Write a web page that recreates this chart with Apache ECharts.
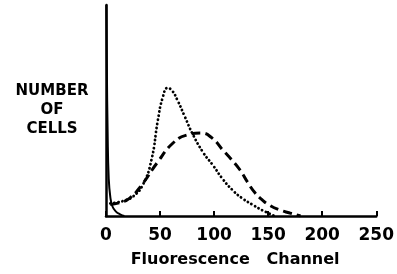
<!DOCTYPE html>
<html lang="en">
<head>
    <meta charset="UTF-8">
    <script src="https://cdn.jsdelivr.net/npm/echarts@6/dist/echarts.min.js"></script>
    <title>Fluorescence</title>
    <style>body{margin:0;background:#fff}</style>
</head>
<body>
    <div id="main" style="width:397px;height:274px"></div>
    <script>
        // [channel, number of cells]
        var control = [[0.3,100],[0.8,70],[1.5,40],[2.5,18],[4,9],[6,4.5],[9,2.2],[13,0.8],[17,0]];
        var dotted = [[4,6],[10,6.4],[18,7.5],[25,9.2],[34,14.7],[42,26.5],[48,45.5],[52.6,56.4],[57,60.7],
            [61,59.5],[66,55],[73,47],[80,39],[90,30],[99,24],[108,17.5],[117,12.3],[126,8.4],[136,5.2],[145,2.6],[151,1.2],[156,0]];
        var dashed = [[4,5.5],[12,6.2],[22,8.5],[33,14.7],[47,25],[62,34.6],[75,38.4],[88,39.3],[98,37],
            [108,31.3],[116,26.8],[124,21.8],[131,16],[138,10.9],[145,7.4],[151,5.2],[160,3],[170,1.4],[180,0]];
        var xTicks = [0, 50, 100, 150, 200, 250];

        var echart = echarts.init(document.getElementById('main'));
        var font = 'DejaVu Sans';
        echart.setOption({
            animation: false,
            grid: {left: 106, right: 20, top: 5, bottom: 58},
            xAxis: {
                type: 'value', min: xTicks[0], max: xTicks[xTicks.length - 1], interval: 50,
                name: 'Fluorescence   Channel', nameLocation: 'middle', nameGap: 36,
                nameTextStyle: {color: '#000', fontFamily: font, fontWeight: 'bold', fontSize: 16, padding: [0, 12, 0, 0]},
                axisLine: {lineStyle: {color: '#000', width: 2.5}},
                axisTick: {inside: true, length: 5, lineStyle: {color: '#000', width: 2}},
                axisLabel: {color: '#000', fontFamily: font, fontWeight: 'bold', fontSize: 17, margin: 11},
                splitLine: {show: false}
            },
            yAxis: {
                type: 'value', min: 0, max: 100,
                name: 'NUMBER\nOF\nCELLS', nameLocation: 'middle', nameRotate: 0, nameGap: 54,
                nameTextStyle: {color: '#000', fontFamily: font, fontWeight: 'bold', fontSize: 15, lineHeight: 19,
                    align: 'center', padding: [4, 0, 0, 0]},
                axisLine: {show: true, lineStyle: {color: '#000', width: 2.5}},
                axisTick: {show: false}, axisLabel: {show: false}, splitLine: {show: false}
            },
            series: [
                {type: 'line', data: control, smooth: true, showSymbol: false,
                    lineStyle: {color: '#000', width: 2}},
                {type: 'line', data: dotted, smooth: true, showSymbol: false,
                    lineStyle: {color: '#000', width: 2.8, type: [0.1, 4], cap: 'round'}},
                {type: 'line', data: dashed, smooth: true, showSymbol: false,
                    lineStyle: {color: '#000', width: 3, type: [9, 5]}}
            ]
        });
    </script>
</body>
</html>
